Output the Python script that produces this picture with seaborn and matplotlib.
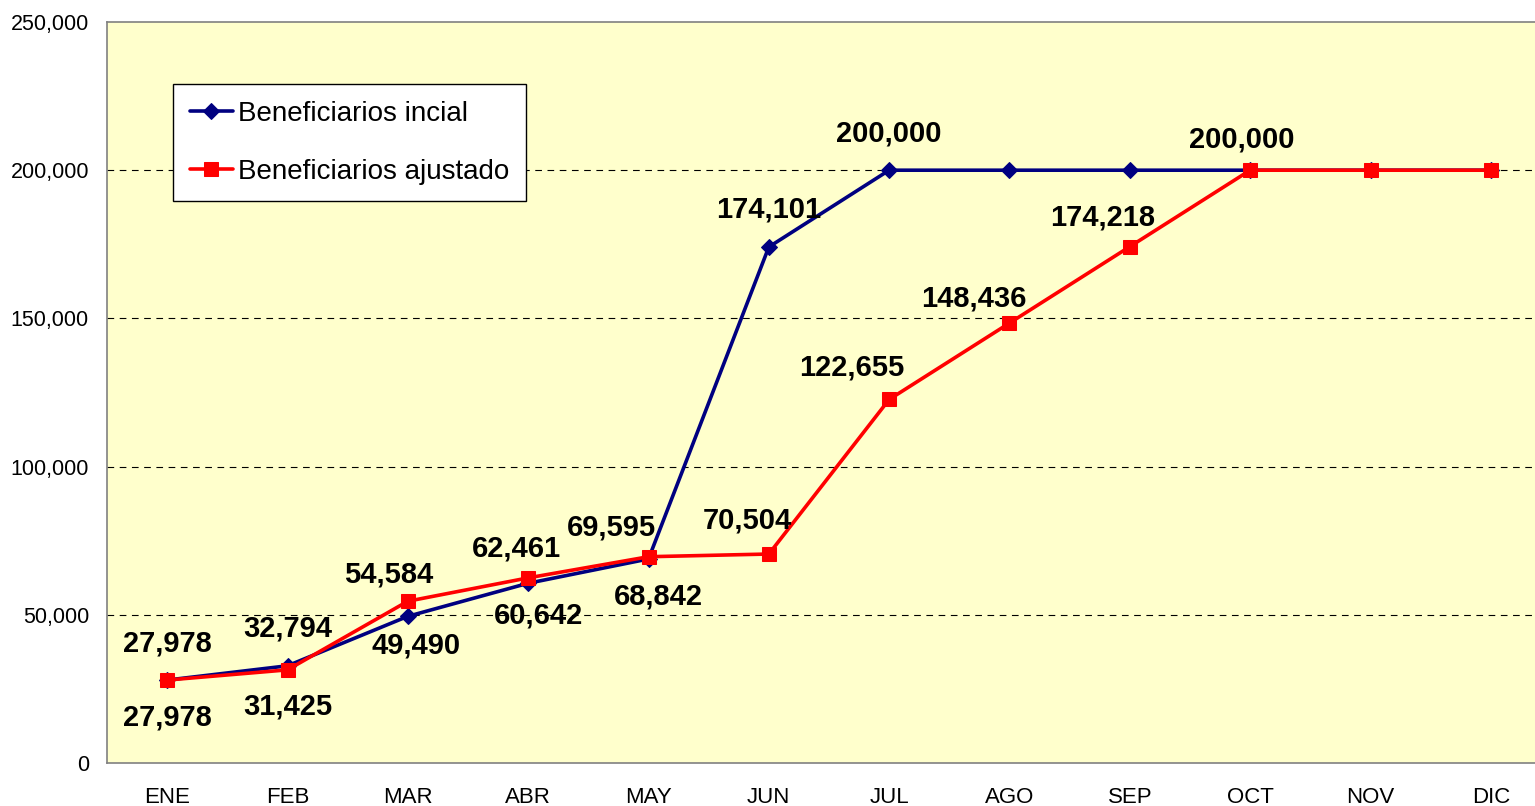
import numpy as np
import pandas as pd
import matplotlib
matplotlib.use("Agg")
import matplotlib.pyplot as plt
import seaborn as sns
from matplotlib.ticker import FuncFormatter, FixedLocator

meses = ["ENE", "FEB", "MAR", "ABR", "MAY", "JUN", "JUL", "AGO", "SEP", "OCT", "NOV", "DIC"]
inicial = [27978, 32794, 49490, 60642, 68842, 174101, 200000, 200000, 200000, 200000, 200000, 200000]
ajustado = [27978, 31425, 54584, 62461, 69595, 70504, 122655, 148436, 174218, 200000, 200000, 200000]

# which points carry a label, and where the label sits (pixel offsets)
lab_inicial = {0: (0, 37), 1: (0, 37), 2: (8, -29), 3: (10, -32), 4: (10, -38), 5: (0, 37), 6: (0, 37)}
lab_ajustado = {0: (0, -37), 1: (0, -37), 2: (-19, 27), 3: (-12, 29), 4: (-37, 29), 5: (-21, 34),
                6: (-37, 32), 7: (-36, 25), 8: (-27, 29), 9: (-8, 31)}

sns.set_style("white")
plt.rcParams["font.family"] = ["Liberation Sans", "DejaVu Sans"]
plt.rcParams["text.color"] = "black"

fig = plt.figure(figsize=(15.35, 8.06), dpi=100)
ax = fig.add_axes([107 / 1535, 1 - 763 / 806, (1551 - 107) / 1535, (763 - 22) / 806])
ax.set_facecolor("#FFFFCC")

x = np.arange(len(meses))
df = pd.DataFrame({"x": x, "inicial": inicial, "ajustado": ajustado})

sns.lineplot(data=df, x="x", y="inicial", ax=ax, color="#000080", lw=2.6,
             marker="D", markersize=8, markeredgecolor="#000080",
             label="Beneficiarios incial", zorder=3)
sns.lineplot(data=df, x="x", y="ajustado", ax=ax, color="#FF0000", lw=2.6,
             marker="s", markersize=10, markeredgecolor="#FF0000",
             label="Beneficiarios ajustado", zorder=4)

for vals, labs in ((inicial, lab_inicial), (ajustado, lab_ajustado)):
    for i, (dx, dy) in labs.items():
        ax.annotate(f"{vals[i]:,}", (x[i], vals[i]), xytext=(dx, dy),
                    textcoords="offset pixels", ha="center", va="center",
                    fontsize=21, fontweight="bold", color="black", zorder=5)

ax.set_xlim(-0.5, 11.5)
ax.set_ylim(0, 250000)
ax.set_yticks(np.arange(0, 250001, 50000))
ax.yaxis.set_major_formatter(FuncFormatter(lambda v, p: f"{int(v):,}"))
ax.set_xticks(x)
ax.set_xticklabels(meses)
ax.xaxis.set_minor_locator(FixedLocator(np.arange(-0.5, 12, 1)))
ax.tick_params(axis="x", which="major", length=0, pad=17, labelsize=16, labelcolor="black")
ax.tick_params(axis="x", which="minor", length=6, width=1, color="#808080", direction="out")
ax.tick_params(axis="y", length=6, width=1, color="#808080", direction="out", pad=7,
               labelsize=15.5, labelcolor="black")
ax.set_xlabel("")
ax.set_ylabel("")

for yv in [50000, 100000, 150000, 200000]:
    ax.axhline(yv, color="black", lw=0.8, ls=(0, (6, 5)), zorder=1)

for s in ["left", "bottom", "top"]:
    ax.spines[s].set_color("#808080")
    ax.spines[s].set_linewidth(1.2)
ax.spines["right"].set_visible(False)

leg = ax.legend(loc="upper left", bbox_to_anchor=((173 - 107) / 1444, (763 - 84) / 741),
                fontsize=20, frameon=True, fancybox=False, framealpha=1,
                edgecolor="black", handlelength=1.55, handletextpad=0.2,
                labelspacing=1.15, borderpad=0.6, borderaxespad=0)
leg.get_frame().set_linewidth(1.0)

fig.savefig("out.png", dpi=100)
